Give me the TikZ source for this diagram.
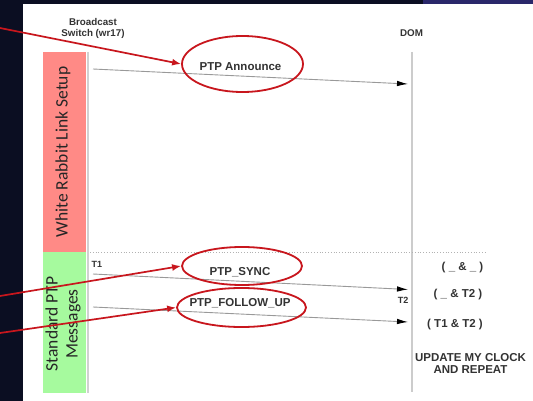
\documentclass[tikz,border=0pt]{standalone}
\usepackage{fontspec}
\setmainfont{Liberation Sans}
\newfontfamily\calfont{Carlito}
\usetikzlibrary{arrows.meta,shapes.geometric}
\definecolor{navy}{HTML}{0B0E22}
\definecolor{topblue}{HTML}{2A276A}
\definecolor{barred}{HTML}{FF8A86}
\definecolor{bargreen}{HTML}{A6FA9E}
\definecolor{ringred}{HTML}{C8161D}
\definecolor{txtgray}{HTML}{333333}
\tikzset{
  lbl/.style={inner sep=0pt, font=\bfseries\fontsize{11.5}{13}\selectfont, text=txtgray},
  small/.style={inner sep=0pt, font=\bfseries\fontsize{9.8}{11}\selectfont, text=txtgray, align=center},
  ring/.style={draw=ringred, line width=1.8pt, ellipse, inner sep=0pt},
  msg/.style={draw=black!40, line width=0.9pt, -{Latex[length=11pt,width=5.5pt,color=black]}},
  pointer/.style={draw=ringred, line width=1.7pt, -{Latex[length=9pt,width=7pt]}},
  phase/.style={inner sep=0pt, rotate=90, font=\calfont\fontsize{17.5}{20}\selectfont, text=black!85, align=center},
  life/.style={draw=black!20, line width=2pt}
}
\begin{document}
\begin{tikzpicture}[x=1pt,y=-1pt]
\useasboundingbox (0,0) rectangle (533,401);
% background
\fill[navy] (0,0) rectangle (533,401);
\fill[topblue] (423,0) rectangle (533,5);
\fill[white] (23,4.5) rectangle (533,401);
% phase bars
\fill[barred] (43,52) rectangle (86,252);
\fill[bargreen] (43,252) rectangle (86,393);
\draw[black!18, line width=1.5pt] (88,52) -- (88,393);
\node[phase] (wr) at (63,152) {White Rabbit Link Setup};
\node[phase] (std) at (63,324) {Standard PTP\\Messages};
% headers
\node[small] (sw) at (93,28.5) {Broadcast\\Switch (wr17)};
\node[small] (dom) at (411.5,33) {DOM};
% lifeline
\coordinate (domtop) at (412,52);
\coordinate (dombot) at (412,392);
\draw[life] (domtop) -- (dombot);
% separator
\coordinate (sepL) at (90,252);
\coordinate (sepR) at (486,252);
\draw[black!30, dotted, line width=0.8pt] (sepL) -- (sepR);
% messages
\coordinate (a1) at (93,69);  \coordinate (b1) at (408,84);
\coordinate (a2) at (93,274); \coordinate (b2) at (408,289.5);
\coordinate (a3) at (93,307); \coordinate (b3) at (408,322);
\draw[msg] (a1) -- (b1);
\draw[msg] (a2) -- (b2);
\draw[msg] (a3) -- (b3);
% labels
\node[lbl] (ann) at (240.5,67) {PTP Announce};
\node[lbl] (sync) at (240,272) {PTP\_SYNC};
\node[lbl] (fup) at (240,303) {PTP\_FOLLOW\_UP};
\node[small, font=\bfseries\fontsize{9}{11}\selectfont] (t1) at (97,264) {T1};
\node[small, font=\bfseries\fontsize{9}{11}\selectfont] (t2) at (403,300) {T2};
% rings
\node[ring, minimum width=121pt, minimum height=56pt] (r1) at (242.5,64) {};
\node[ring, minimum width=120pt, minimum height=38pt] (r2) at (242,266) {};
\node[ring, minimum width=129pt, minimum height=39pt] (r3) at (241.5,307.5) {};
% pointers
\coordinate (p1) at (0,28);
\coordinate (p2) at (0,296);
\coordinate (p3) at (0,333);
\draw[pointer] (p1) -- (r1.west);
\draw[pointer] (p2) -- (r2.west);
\draw[pointer] (p3) -- (r3.west);
% right-side states
\node[lbl] (s1) at (462.5,268) {( \_ \& \_ )};
\node[lbl] (s2) at (458,295) {( \_ \& T2 )};
\node[lbl] (s3) at (455,325) {( T1 \& T2 )};
\node[lbl, align=center, font=\bfseries\fontsize{11.5}{11.5}\selectfont] (upd) at (470.5,363.5) {UPDATE MY CLOCK\\AND REPEAT};
\end{tikzpicture}
\end{document}
